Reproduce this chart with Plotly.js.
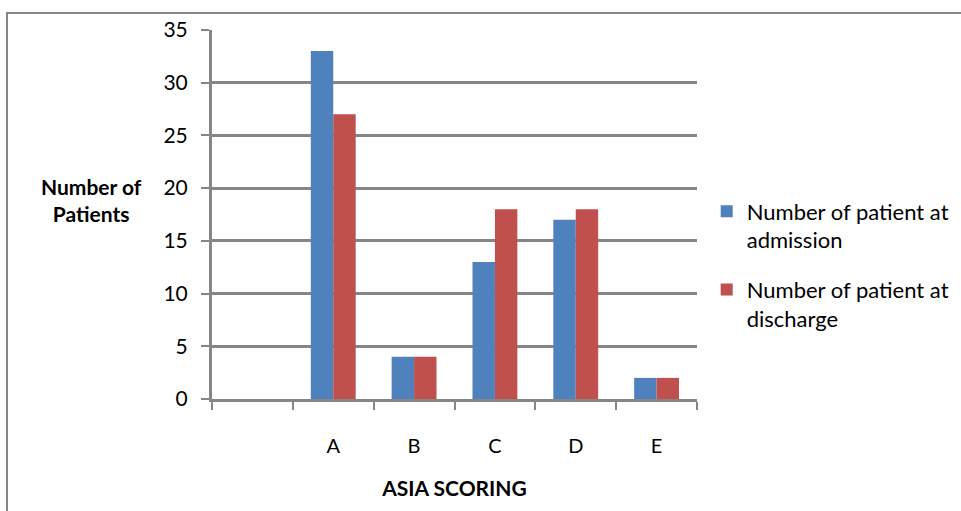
<!DOCTYPE html>
<html>
<head>
<meta charset="utf-8">
<script src="https://cdn.plot.ly/plotly-3.0.1.min.js"></script>
<style>
  html, body { margin: 0; padding: 0; background: #fff; }
  #chart { width: 961px; height: 511px; }
</style>
</head>
<body>
<div id="chart"></div>
<script>
// ASIA impairment scale categories (the first slot is left empty on purpose)
const categories = [" ", "A", "B", "C", "D", "E"];
const admission = [null, 33, 4, 13, 17, 2];
const discharge = [null, 27, 4, 18, 18, 2];
const seriesNames = ["Number of patient at<br>admission", "Number of patient at<br>discharge"];
const yTicks = [0, 5, 10, 15, 20, 25, 30, 35];

const grey = "#868686";
const font = "Lato, 'Open Sans', sans-serif";

const traces = [
  { type: "bar", x: categories, y: admission, name: seriesNames[0],
    marker: { color: "#4F81BD" }, legendgroup: "a", hoverinfo: "x+y" },
  { type: "bar", x: categories, y: discharge, name: seriesNames[1],
    marker: { color: "#C0504D" }, legendgroup: "b", hoverinfo: "x+y" }
];

const layout = {
  width: 961, height: 511,
  margin: { l: 212, r: 264, t: 30, b: 112, autoexpand: false },
  paper_bgcolor: "#fff", plot_bgcolor: "#fff",
  font: { family: font, size: 20, color: "#000" },
  barmode: "group", bargap: 0.445, bargroupgap: 0,
  showlegend: true,
  legend: {
    x: 1.02, xanchor: "left", y: 0.565, yanchor: "top",
    font: { family: font, size: 22, color: "#000" },
    tracegroupgap: 18, valign: "top", bgcolor: "rgba(0,0,0,0)"
  },
  xaxis: {
    type: "category", categoryarray: categories, categoryorder: "array",
    tickson: "boundaries", ticks: "outside", ticklen: 8, tickwidth: 2, tickcolor: grey,
    showline: true, linecolor: grey, linewidth: 3, showgrid: false,
    ticklabelstandoff: 27, tickfont: { family: font, size: 20 },
    title: { text: "<b>ASIA SCORING</b>", font: { family: font, size: 21 }, standoff: 26 },
    range: [-0.5, 5.5], fixedrange: true
  },
  yaxis: {
    range: [0, 35], tickvals: yTicks, ticks: "outside", ticklen: 8, tickwidth: 2, tickcolor: grey,
    showline: true, linecolor: grey, linewidth: 3,
    showgrid: true, gridcolor: grey, gridwidth: 3, zeroline: false,
    ticklabelstandoff: 9, tickfont: { family: font, size: 21 }, fixedrange: true
  },
  annotations: [{
    xref: "paper", yref: "paper", x: -0.248, y: 0.54, xanchor: "center", yanchor: "middle",
    text: "<b>Number of<br>Patients</b>", showarrow: false, align: "center",
    font: { family: font, size: 21, color: "#000" }
  }],
  shapes: [{
    type: "rect", xref: "paper", yref: "paper",
    x0: -0.4227, x1: 1.7, y0: -0.5, y1: 1.046,
    line: { color: grey, width: 2 }, fillcolor: "rgba(0,0,0,0)", layer: "below"
  }]
};

Plotly.newPlot("chart", traces, layout, { displayModeBar: false, staticPlot: true });
</script>
</body>
</html>
